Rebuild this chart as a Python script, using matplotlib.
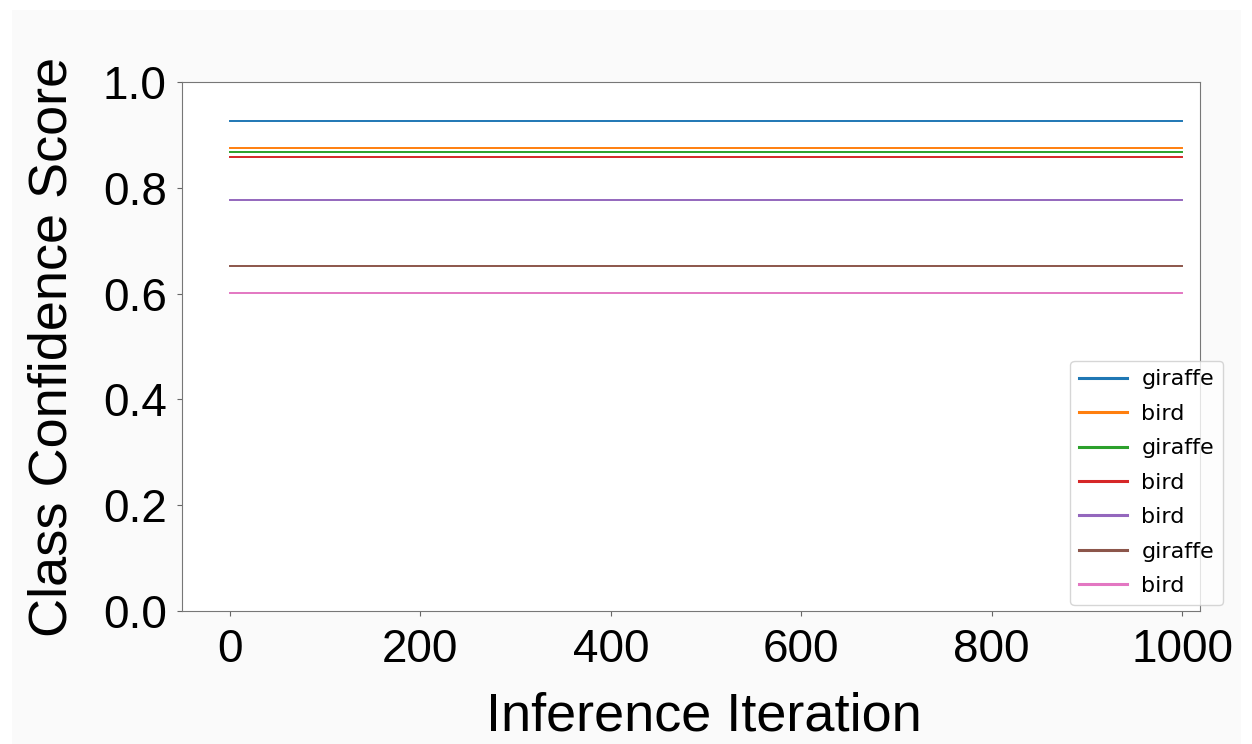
import matplotlib
matplotlib.use("Agg")
import matplotlib.pyplot as plt
from matplotlib.patches import Rectangle

iterations = [0, 1000]
labels = ["giraffe", "bird", "giraffe", "bird", "bird", "giraffe", "bird"]
scores = [0.926, 0.876, 0.867, 0.858, 0.777, 0.652, 0.602]
colors = ["#1f77b4", "#ff7f0e", "#2ca02c", "#d62728", "#9467bd", "#8c564b", "#e377c2"]

plt.rcParams['font.family'] = ['Liberation Sans', 'DejaVu Sans']
W, H = 1252, 744
fig = plt.figure(figsize=(12.52, 7.44), dpi=100, facecolor="white")
fig.patches.append(Rectangle((12 / W, 0), (1241 - 12) / W, (H - 10) / H,
                             transform=fig.transFigure, facecolor="#fafafa",
                             edgecolor="none", zorder=-10))
ax = fig.add_axes([182 / W, 1 - 611 / H, (1200 - 182) / W, (611 - 82) / H])
ax.set_facecolor("white")
for lab, s, c in zip(labels, scores, colors):
    ax.plot(iterations, [s, s], color=c, lw=1.4, label=lab)
ax.set_ylim(0, 1.0)
ax.set_xlim(-50.4, 1018.9)
ax.set_yticks([0.0, 0.2, 0.4, 0.6, 0.8, 1.0])
ax.set_xticks([0, 200, 400, 600, 800, 1000])
ax.tick_params(labelsize=33, colors="#666666", labelcolor="black")
ax.tick_params(axis="x", pad=8.5)
ax.tick_params(axis="y", pad=7.5)
for sp in ax.spines.values():
    sp.set_color("#777777")
lab_font = {'family': ['Liberation Sans', 'DejaVu Sans'], 'size': 39}
ax.set_xlabel("Inference Iteration", fontdict=lab_font, labelpad=14)
ax.xaxis.label.set_x(0.513)
ax.set_ylabel("Class Confidence Score", fontdict=lab_font, labelpad=18)
leg = ax.legend(loc="lower right", prop={'family': 'DejaVu Sans', 'size': 16},
                handlelength=2.15, labelspacing=0.65, handletextpad=0.65,
                bbox_to_anchor=(1223 / W, 1 - 605 / H),
                bbox_transform=fig.transFigure, borderaxespad=0)
for h in leg.get_lines():
    h.set_linewidth(2.2)
fig.savefig("out.png", dpi=100, facecolor=fig.get_facecolor())
